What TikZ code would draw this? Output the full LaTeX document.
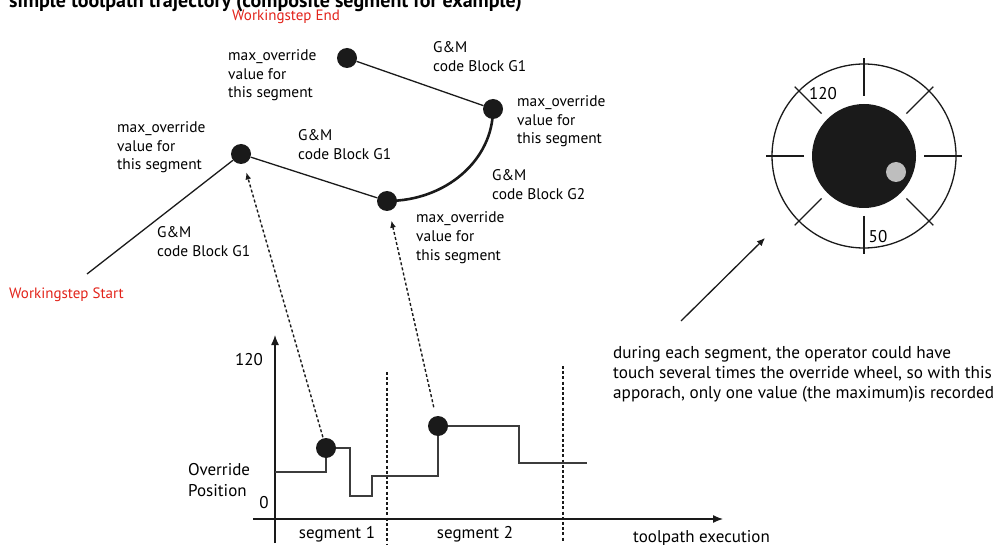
\documentclass[tikz,border=0pt]{standalone}
\usepackage{fontspec}
\setmainfont{PT Sans}
\usetikzlibrary{arrows.meta,calc}
\definecolor{wsred}{HTML}{E2231A}
\definecolor{dotblack}{HTML}{1A1A1A}
\definecolor{knobgray}{HTML}{BEBEBE}

\begin{document}
\begin{tikzpicture}[
  x=1pt, y=-1pt,
  font=\fontsize{15.4}{18.5}\selectfont,
  dot/.style={circle, fill=dotblack, minimum size=20pt, inner sep=0},
  lbl/.style={align=left, anchor=base west, inner sep=0},
  redlbl/.style={lbl, text=wsred, font=\fontsize{15}{18}\selectfont},
  glbl/.style={lbl, font=\fontsize{17}{21}\selectfont},
  seg/.style={line width=1.3pt, dotblack},
  arcseg/.style={line width=2.6pt, dotblack},
  ptr/.style={-{Latex[length=7pt,width=6pt]}, line width=1.4pt,
    dash pattern=on 3pt off 2.2pt, dotblack},
  axis/.style={-{Latex[length=10pt,width=8pt]}, line width=1.3pt, dotblack},
  split/.style={line width=1.3pt, dash pattern=on 3pt off 2.2pt, dotblack},
  steps/.style={line width=1.3pt, dotblack!85},
  arr/.style={-{Latex[length=8pt,width=7pt]}, line width=1.3pt, dotblack},
]
\useasboundingbox (0,0) rectangle (995,545);

% title, cut by the page edge
\node[anchor=base west, inner sep=0, font=\fontsize{20}{24}\selectfont\bfseries]
  (title) at (9,8) {simple toolpath trajectory (composite segment for example)};

% toolpath points
\coordinate (wsstart) at (87,274);
\node[dot] (d1) at (241,154) {};
\node[dot] (d2) at (387,201) {};
\node[dot] (d3) at (493,109) {};
\node[dot] (d4) at (347,58) {};

% toolpath segments
\draw[seg] (wsstart) -- (d1);
\draw[seg] (d1) -- (d2);
\draw[arcseg] (d2.center) .. controls (446,201) and (493,160) .. (d3.center);
\draw[seg] (d3) -- (d4);

% labels of the toolpath (base = last line)
\node[redlbl] (wsend) at (232,21) {Workingstep End};
\node[redlbl] (wsbeg) at (9,298) {Workingstep Start};
\node[lbl] (m4) at (228,98) {max\_override\\value for\\this segment};
\node[lbl] (m1) at (117,170) {max\_override\\value for\\this segment};
\node[lbl] (m3) at (517,144) {max\_override\\value for\\this segment};
\node[lbl] (m2) at (416,260) {max\_override\\value for\\this segment};
\node[lbl] (b0) at (157,256.5) {G\&M\\code Block G1};
\node[lbl] (b1) at (298,159.5) {G\&M\\code Block G1};
\node[lbl] (b2) at (492,199.5) {G\&M\\code Block G2};
\node[lbl] (b3) at (433,71.5) {G\&M\\code Block G1};

% override graph
\coordinate (yfoot) at (275,543);
\coordinate (ytop) at (275,335);
\coordinate (xfoot) at (253,519);
\coordinate (xtop) at (723,519);
\draw[axis] (yfoot) -- (ytop);
\draw[axis] (xfoot) -- (xtop);
\draw[split] (387,372) -- (387,545);
\draw[split] (563,366) -- (563,541);
\draw[steps] (275,472) -- (326,472) -- (326,448) -- (350,448) -- (350,496)
  -- (372,496) -- (372,476) -- (438,476) -- (438,426) -- (519,426)
  -- (519,463) -- (587,463);
\node[dot] (g1) at (326,448) {};
\node[dot] (g2) at (438,426) {};

\node[glbl, anchor=base east] (ymax) at (263,365) {120};
\node[glbl, anchor=base] (ymin) at (264,508) {0};
\node[glbl] (ylab) at (188,496) {Override\\Position};
\node[glbl, anchor=base] (s1) at (337,538) {segment 1};
\node[glbl, anchor=base] (s2) at (475,538) {segment 2};
\node[glbl] (xlab) at (633,542) {toolpath execution};

% recorded maxima
\draw[ptr, shorten <=1pt, shorten >=9pt] (g1) -- (d1);
\draw[ptr, shorten <=9pt, shorten >=10pt] (g2) -- (d2);

% override wheel
\coordinate (w) at (864,156);
\draw[line width=1.3pt, dotblack] (w) circle (92);
\foreach \a in {0,45,...,315}
  \draw[line width=1.3pt, dotblack] ($(w)+(\a:60)$) -- ($(w)+(\a:98)$);
\fill[dotblack] (w) circle (52);
\fill[knobgray] (896,172) circle (10);
\node[glbl, anchor=base] (w120) at (823,100) {120};
\node[glbl, anchor=base] (w50) at (878,243) {50};

% note
\node[lbl, font=\fontsize{17.2}{20}\selectfont] (note) at (613,398)
  {during each segment, the operator could have\\
   touch several times the override wheel, so with this\\
   apporach, only one value (the maximum)is recorded};
\coordinate (nstart) at (681,321);
\coordinate (ntip) at (765,238);
\draw[arr] (nstart) -- (ntip);

\end{tikzpicture}
\end{document}
